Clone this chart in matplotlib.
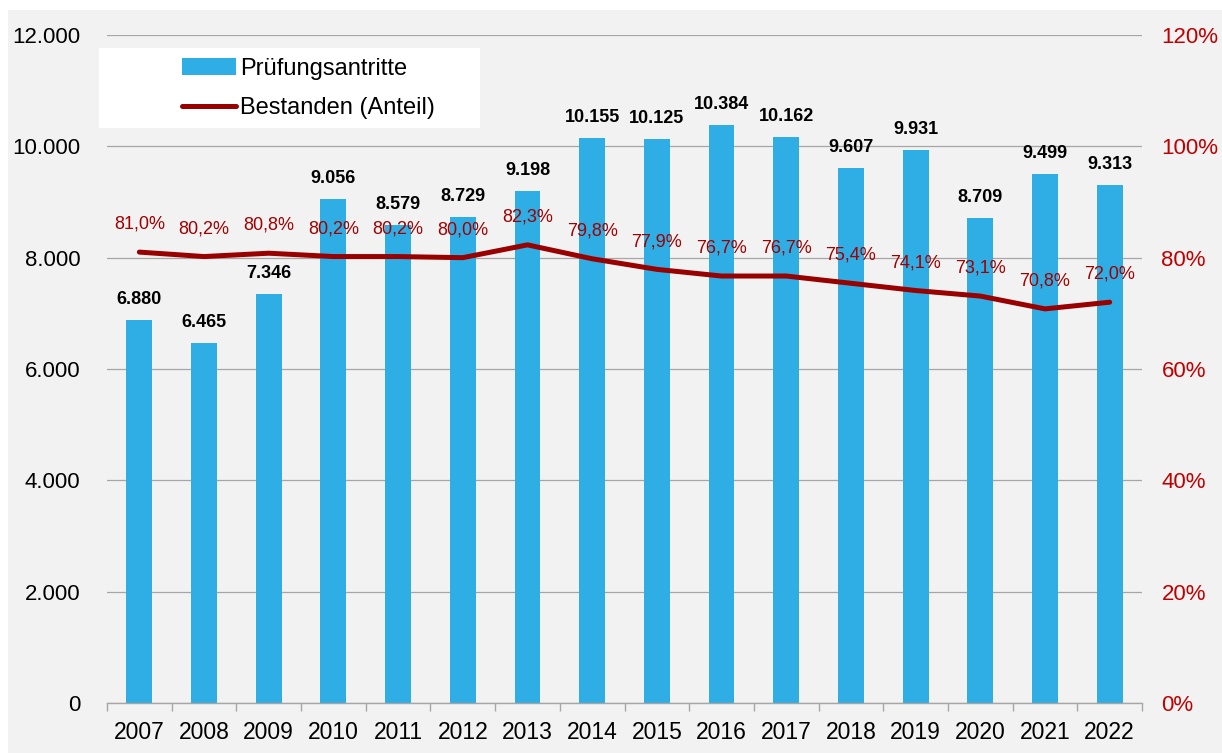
import matplotlib.pyplot as plt
import matplotlib.patches as mpatches
import numpy as np

plt.rcParams['font.family'] = ['Liberation Sans', 'DejaVu Sans']

jahre = [str(j) for j in range(2007, 2023)]
antritte = [6880, 6465, 7346, 9056, 8579, 8729, 9198, 10155, 10125, 10384,
            10162, 9607, 9931, 8709, 9499, 9313]
bestanden = [81.0, 80.2, 80.8, 80.2, 80.2, 80.0, 82.3, 79.8, 77.9, 76.7,
             76.7, 75.4, 74.1, 73.1, 70.8, 72.0]

blau = '#2EAEE5'
rot_linie = '#990000'
rot_text = '#A00000'
rot_achse = '#C00000'
grau = '#F2F2F2'
gitter = '#A6A6A6'


def tausender(v):
    return '{:,.0f}'.format(v).replace(',', '.')


fig = plt.figure(figsize=(12.22, 7.53), dpi=100, facecolor='white')
fig.patches.append(mpatches.Rectangle((8 / 1222, 0), 1, 1 - 10 / 753, transform=fig.transFigure,
                                      facecolor=grau, edgecolor='none', zorder=-10))

ax = fig.add_axes([107 / 1222, 50 / 753, 1035 / 1222, 668 / 753])
ax.set_facecolor('none')
x = np.arange(len(jahre))

bars = ax.bar(x, antritte, width=0.4, color=blau, zorder=2, label='Prüfungsantritte')
for xi, v in zip(x, antritte):
    ax.annotate(tausender(v), (xi, v), xytext=(0, 11.5), textcoords='offset points',
                ha='center', va='baseline', fontsize=13, fontweight='bold', color='black')

ax.set_ylim(0, 12000)
ax.set_xlim(-0.5, len(jahre) - 0.5)
ax.set_yticks(np.arange(0, 12001, 2000))
ax.set_yticklabels([tausender(v) for v in np.arange(0, 12001, 2000)])
ax.yaxis.grid(True, color=gitter, linewidth=0.9, zorder=0)
ax.set_axisbelow(True)
ax.set_xticks(x)
ax.set_xticklabels(jahre)
ax.set_xticks(np.arange(-0.5, len(jahre)), minor=True)
ax.tick_params(axis='x', which='major', length=0, pad=13, labelsize=16.5)
ax.tick_params(axis='x', which='minor', length=6, width=1.0, color=gitter)
ax.tick_params(axis='y', length=0, pad=19, labelsize=16)
for s in ['top', 'right', 'left']:
    ax.spines[s].set_visible(False)
ax.spines['bottom'].set_color(gitter)
ax.spines['bottom'].set_linewidth(1.0)

ax2 = ax.twinx()
ax2.set_ylim(0, 120)
line, = ax2.plot(x, bestanden, color=rot_linie, linewidth=3.6, solid_capstyle='round',
                 label='Bestanden (Anteil)', zorder=3)
for xi, v in zip(x, bestanden):
    ax2.annotate('{:.1f}%'.format(v).replace('.', ','), (xi, v), xytext=(0, 20),
                 textcoords='offset points', ha='center', va='center', fontsize=13, color=rot_text)
ax2.set_yticks(np.arange(0, 121, 20))
ax2.set_yticklabels(['{}%'.format(v) for v in range(0, 121, 20)])
ax2.tick_params(axis='y', length=0, pad=14, labelsize=16, labelcolor=rot_achse)
for s in ['top', 'right', 'left', 'bottom']:
    ax2.spines[s].set_visible(False)

# weisser Kasten hinter der Legende
fig.patches.append(mpatches.Rectangle((99 / 1222, 1 - 128 / 753), 381 / 1222, 80 / 753,
                                      transform=fig.transFigure, facecolor='white',
                                      edgecolor='none', zorder=5))
leg = fig.legend([bars, line], ['Prüfungsantritte', 'Bestanden (Anteil)'], loc='upper left',
                 bbox_to_anchor=(182 / 1222, 1 - 58 / 753), bbox_transform=fig.transFigure,
                 frameon=False, fontsize=17, handlelength=2.3, handletextpad=0.15,
                 labelspacing=0.72, borderpad=0, borderaxespad=0)
leg.set_zorder(6)

fig.savefig('out.png', dpi=100, facecolor=fig.get_facecolor())
